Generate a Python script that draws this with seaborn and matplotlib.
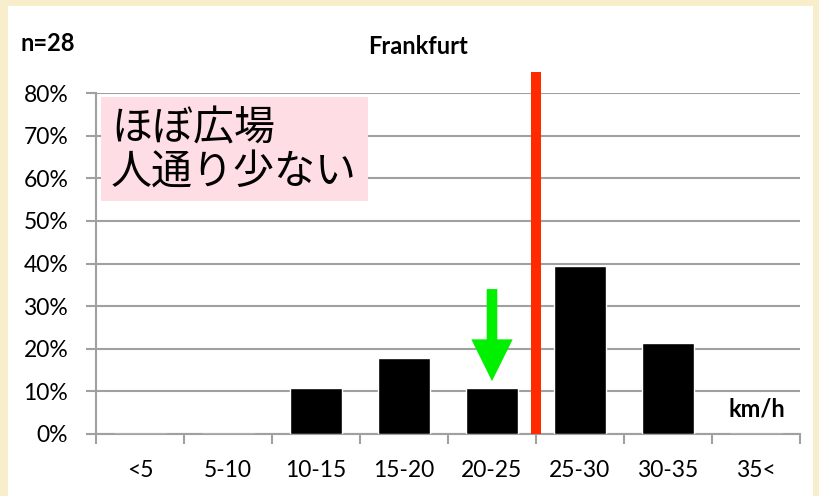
import numpy as np
import pandas as pd
import seaborn as sns
import matplotlib.pyplot as plt
from matplotlib.patches import Rectangle, FancyArrow

speed_bins = ["<5", "5-10", "10-15", "15-20", "20-25", "25-30", "30-35", "35<"]
share_pct = [0, 0, 10.7, 17.9, 10.7, 39.3, 21.4, 0]
n_total = 28
y_ticks = [0, 10, 20, 30, 40, 50, 60, 70, 80]
title = "Frankfurt"
unit_label = "km/h"
note_lines = ["ほぼ広場", "人通り少ない"]

# red limit line sits between 20-25 and 25-30, green arrow points at 20-25
limit_pos = 4.5
limit_top = 85
arrow_bin = 4
arrow_from, arrow_to = 34, 12.4

sns.set_theme(style="white")
plt.rcParams["font.family"] = ["Lato", "DejaVu Sans"]
plt.rcParams["text.color"] = "black"
plt.rcParams["xtick.color"] = "black"
plt.rcParams["ytick.color"] = "black"

W, H = 820, 496
GRID = "#a0a0a0"


def fx(px):
    return px / W


def fy(py):
    return 1 - py / H


fig = plt.figure(figsize=(8.2, 4.96), dpi=100, facecolor="#f8eecb")
fig.add_artist(Rectangle((fx(8), 0), fx(813) - fx(8), fy(6), transform=fig.transFigure,
                         facecolor="white", edgecolor="none", zorder=-1))

ax = fig.add_axes([fx(96), fy(434), fx(800) - fx(96), fy(93) - fy(434)])
ax.set_facecolor("white")

df = pd.DataFrame({"speed": speed_bins, "share": share_pct})
sns.barplot(data=df, x="speed", y="share", color="black", saturation=1, width=0.6, ax=ax, zorder=3)

ax.set_xlim(-0.5, len(speed_bins) - 0.5)
ax.set_ylim(0, 80)
ax.set_yticks(y_ticks)
ax.set_yticklabels([f"{v}%" for v in y_ticks])
ax.yaxis.grid(True, color=GRID, lw=1.5)
ax.set_axisbelow(True)
ax.set_xlabel("")
ax.set_ylabel("")

ax.set_xticks(range(len(speed_bins)))
ax.set_xticks(np.arange(-0.5, len(speed_bins), 1), minor=True)
ax.tick_params(axis="x", which="major", length=0, pad=19, labelsize=16.5, bottom=False,
               labelcolor="black")
ax.tick_params(axis="x", which="minor", length=7, width=1.5, color=GRID, direction="out", bottom=True)
ax.tick_params(axis="y", length=7, width=1.5, color=GRID, direction="out", pad=13, labelsize=16.5,
               left=True, labelcolor="black")

for side in ["top", "right"]:
    ax.spines[side].set_visible(False)
for side in ["left", "bottom"]:
    ax.spines[side].set_color(GRID)
    ax.spines[side].set_linewidth(1.5)

ax.plot([limit_pos, limit_pos], [0, limit_top], color="#ff2a00", lw=7.2,
        solid_capstyle="butt", clip_on=False, zorder=4)
ax.add_patch(FancyArrow(arrow_bin, arrow_from, 0, arrow_to - arrow_from, width=0.12,
                        head_width=0.47, head_length=9.8, length_includes_head=True,
                        color="#00f000", lw=0, zorder=5))

# pink note box
fig.add_artist(Rectangle((fx(101), fy(201)), fx(368) - fx(101), fy(97) - fy(201),
                         transform=fig.transFigure, facecolor="#ffdde4", edgecolor="none", zorder=5))
fig.text(fx(111), fy(128.7), note_lines[0], family=["Noto Sans CJK JP", "DejaVu Sans"],
         fontsize=29.5, ha="left", va="center", color="black", zorder=6)
fig.text(fx(111), fy(173), note_lines[1], family=["Noto Sans CJK JP", "DejaVu Sans"],
         fontsize=29.5, ha="left", va="center", color="black", zorder=6)

fig.text(fx(48), fy(43.5), f"n={n_total}", fontsize=17, fontweight="bold", ha="center", va="center")
fig.text(fx(418), fy(46.5), title, fontsize=17, fontweight="bold", ha="center", va="center")
fig.text(fx(757), fy(409), unit_label, fontsize=17, fontweight="bold", ha="center", va="center")

fig.savefig("out.png", dpi=100, facecolor=fig.get_facecolor())
